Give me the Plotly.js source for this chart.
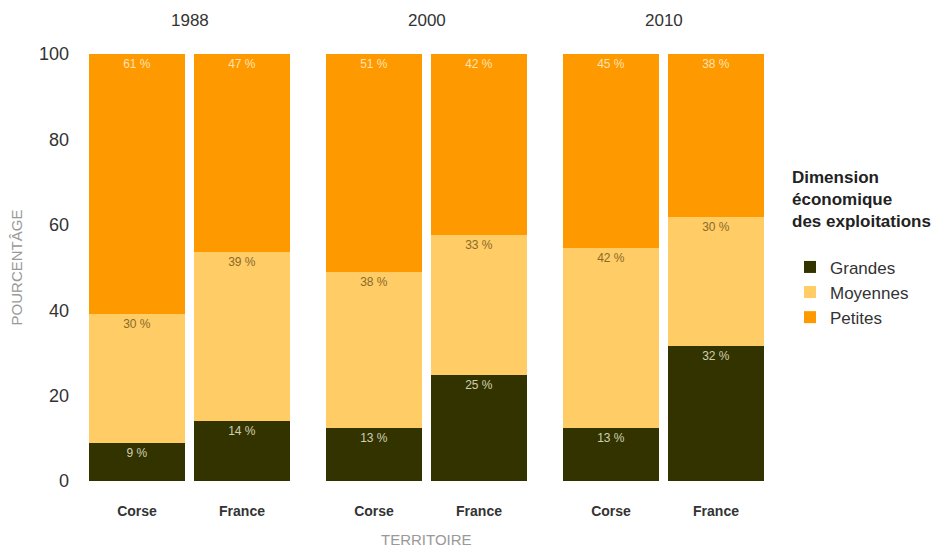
<!DOCTYPE html>
<html>
<head>
<meta charset="utf-8">
<script src="https://cdn.plot.ly/plotly-3.0.1.min.js"></script>
<style>html,body{margin:0;padding:0;background:#fff;}#chart{width:933px;height:547px;}</style>
</head>
<body>
<div id="chart"></div>
<script>
// Data (bar order: 1988 Corse, 1988 France, 2000 Corse, 2000 France, 2010 Corse, 2010 France)
const years = ['1988', '2000', '2010'];
const territoires = ['Corse', 'France'];
const seriesNames = ['Grandes', 'Moyennes', 'Petites'];
const grandesVals  = [8.8, 14.0, 12.4, 24.8, 12.4, 31.6];
const moyennesVals = [30.3, 39.6, 36.6, 32.8, 42.2, 30.2];
const petitesVals  = [60.9, 46.4, 51.0, 42.4, 45.4, 38.2];
const grandesLabels  = [9, 14, 13, 25, 13, 32];
const moyennesLabels = [30, 39, 38, 33, 42, 30];
const petitesLabels  = [61, 47, 51, 42, 45, 38];
const yTicks = [0, 20, 40, 60, 80, 100];

const colors = ['#333300', '#FFCC66', '#FF9900'];
const textColors = ['rgba(235,235,215,0.85)', '#8a6a28', 'rgba(255,235,195,0.92)'];
const allVals = [grandesVals, moyennesVals, petitesVals];
const allLabels = [grandesLabels, moyennesLabels, petitesLabels];

const FONT = 'Liberation Sans, Arial, sans-serif';
const traces = [];
years.forEach((yr, p) => {
  const xa = p === 0 ? 'x' : 'x' + (p + 1);
  seriesNames.forEach((name, s) => {
    const vals = allVals[s].slice(p * 2, p * 2 + 2);
    const labs = allLabels[s].slice(p * 2, p * 2 + 2);
    traces.push({
      type: 'bar',
      name: name,
      showlegend: p === 0,
      x: territoires,
      y: vals,
      xaxis: xa,
      yaxis: 'y',
      marker: {color: colors[s], line: {width: 0}},
      text: labs.map(v => v + ' %'),
      textposition: 'inside',
      insidetextanchor: 'end',
      textangle: 0,
      textfont: {family: FONT, size: 12, color: textColors[s]},
      hoverinfo: 'skip'
    });
  });
});

const L = 74, R = 779, W = R - L, gap = 6;
const pw = (W - 2 * gap) / 3;
const doms = [0, 1, 2].map(i => [(i * (pw + gap)) / W, (i * (pw + gap) + pw) / W]);

const xaxisBase = {
  type: 'category',
  range: [-0.6, 1.6],
  showgrid: false, zeroline: false, showline: false,
  ticks: '',
  ticklabelstandoff: 20,
  tickfont: {family: 'Liberation Sans Narrow, Liberation Sans, Arial, sans-serif', size: 14, color: '#333', weight: 'bold'},
  fixedrange: true
};

const layout = {
  width: 933, height: 547,
  margin: {l: L, r: 933 - R, t: 54, b: 66},
  paper_bgcolor: '#fff', plot_bgcolor: '#fff',
  font: {family: FONT, color: '#333'},
  barmode: 'stack',
  bargap: 0.08,
  showlegend: true,
  legend: {
    xref: 'container', yref: 'container',
    x: 790 / 933, xanchor: 'left',
    y: 1 - 161 / 547, yanchor: 'top',
    traceorder: 'normal',
    tracegroupgap: 0,
    font: {family: FONT, size: 17, color: '#333'},
    title: {text: 'Dimension<br>économique<br>des exploitations<br> ', font: {family: FONT, size: 17, color: '#222', weight: 'bold'}},
    itemclick: false, itemdoubleclick: false
  },
  yaxis: {
    range: [0, 100],
    tickvals: yTicks,
    ticktext: yTicks.map(String),
    showgrid: false, zeroline: false, showline: false, ticks: '',
    tickfont: {family: FONT, size: 18, color: '#333'},
    ticklabelstandoff: 4,
    title: {text: 'POURCENTÂGE', font: {family: FONT, size: 15, color: '#999'}, standoff: 12},
    fixedrange: true
  },
  annotations: years.map((yr, i) => ({
    text: yr, xref: 'paper', yref: 'paper',
    x: (doms[i][0] + doms[i][1]) / 2, xanchor: 'center',
    y: (481 - 21) / 427, yanchor: 'middle',
    showarrow: false,
    font: {family: FONT, size: 17, color: '#333'}
  }))
};
doms.forEach((d, i) => {
  const key = i === 0 ? 'xaxis' : 'xaxis' + (i + 1);
  layout[key] = Object.assign({}, xaxisBase, {domain: d, anchor: 'y'});
});
layout.annotations.push({
  text: 'TERRITOIRE', xref: 'paper', yref: 'paper',
  x: 0.5, xanchor: 'center', y: (481 - 539) / 427, yanchor: 'middle',
  showarrow: false, font: {family: FONT, size: 15, color: '#999'}
});

Plotly.newPlot('chart', traces, layout, {displayModeBar: false, staticPlot: true});
</script>
</body>
</html>
